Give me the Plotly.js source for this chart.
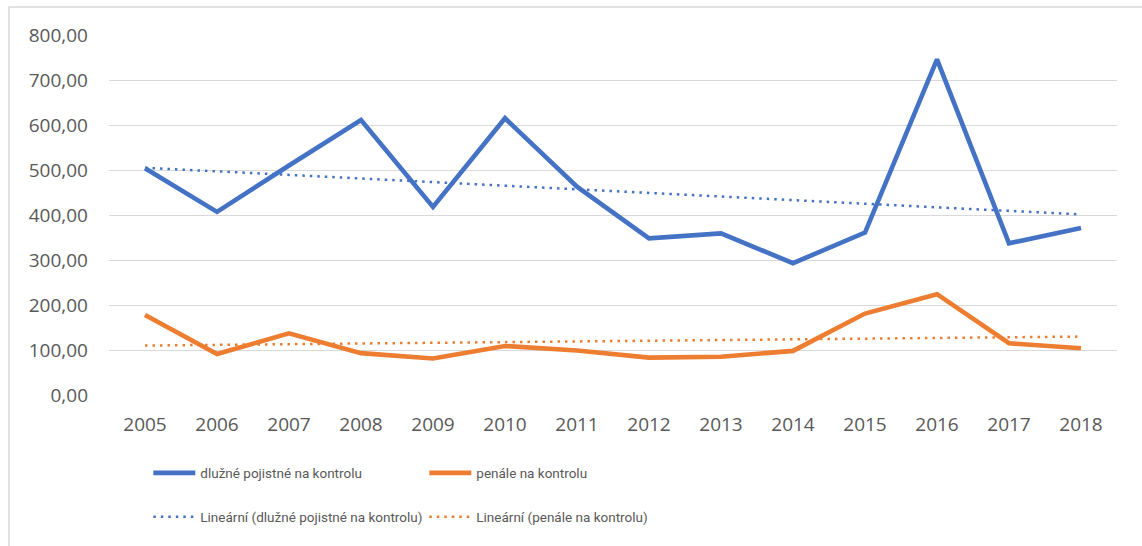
<!DOCTYPE html>
<html>
<head>
<meta charset="utf-8">
<script src="https://cdn.plot.ly/plotly-3.0.1.min.js"></script>
<style>html,body{margin:0;padding:0;background:#fff;}#chart{width:1142px;height:546px;}</style>
</head>
<body>
<div id="chart"></div>
<script>
const years = ['2005','2006','2007','2008','2009','2010','2011','2012','2013','2014','2015','2016','2017','2018'];
const dluzne = [504, 407, 510, 611, 418, 615, 463, 348, 359, 293, 361, 746, 337, 371];
const penale = [178, 91, 137, 93, 81, 109, 99, 83, 85, 98, 181, 224, 115, 104];
const names = ['dlužné pojistné na kontrolu', 'penále na kontrolu',
               'Lineární (dlužné pojistné na kontrolu)', 'Lineární (penále na kontrolu)'];

function linTrend(vals) {
  const n = vals.length;
  let sx = 0, sy = 0, sxx = 0, sxy = 0;
  vals.forEach((v, i) => { sx += i; sy += v; sxx += i * i; sxy += i * v; });
  const b = (n * sxy - sx * sy) / (n * sxx - sx * sx);
  const a = (sy - b * sx) / n;
  return vals.map((_, i) => a + b * i);
}

const BLUE = '#4472C4', ORANGE = '#ED7D31';
const traces = [
  {x: years, y: dluzne, name: names[0], type: 'scatter', mode: 'lines',
   line: {color: BLUE, width: 4.6}, legend: 'legend'},
  {x: years, y: penale, name: names[1], type: 'scatter', mode: 'lines',
   line: {color: ORANGE, width: 4.6}, legend: 'legend'},
  {x: years, y: linTrend(dluzne), name: names[2], type: 'scatter', mode: 'lines',
   line: {color: BLUE, width: 2.5, dash: '2.5px,5px'}, legend: 'legend2'},
  {x: years, y: linTrend(penale), name: names[3], type: 'scatter', mode: 'lines',
   line: {color: ORANGE, width: 2.5, dash: '2.5px,5px'}, legend: 'legend2'}
];

const FONT = 'Open Sans, sans-serif';
const legendBase = {
  orientation: 'h', xanchor: 'left', yanchor: 'middle',
  font: {family: 'Roboto, sans-serif', size: 13.5, color: '#595959'},
  entrywidth: 219, entrywidthmode: 'pixels', itemwidth: 42,
  bgcolor: 'rgba(0,0,0,0)', traceorder: 'normal', itemclick: false
};

const layout = {
  width: 1142, height: 546,
  margin: {l: 109, r: 25, t: 35, b: 151},
  paper_bgcolor: '#ffffff', plot_bgcolor: '#ffffff',
  separators: ', ',
  font: {family: FONT, color: '#595959'},
  showlegend: true,
  xaxis: {
    type: 'category', range: [-0.5, 13.5], showgrid: false, zeroline: false,
    showline: false, ticks: '', ticklabelstandoff: 16,
    tickfont: {family: FONT, size: 19, color: '#595959'}
  },
  yaxis: {
    range: [0, 800], dtick: 100, tickformat: '.2f', showgrid: true,
    gridcolor: '#d9d9d9', gridwidth: 1, zeroline: false, showline: false,
    ticks: '', ticklabelstandoff: 20,
    tickfont: {family: FONT, size: 19, color: '#595959'}
  },
  legend: Object.assign({}, legendBase, {x: 0.039, y: -0.217}),
  legend2: Object.assign({}, legendBase, {x: 0.039, y: -0.339}),
  shapes: [{
    type: 'rect', xref: 'paper', yref: 'paper',
    x0: -0.0992, x1: 1.04, y0: -0.47, y1: 1.0778,
    line: {color: '#d9d9d9', width: 1.5}, fillcolor: 'rgba(0,0,0,0)', layer: 'below'
  }]
};

Plotly.newPlot('chart', traces, layout, {staticPlot: true, displayModeBar: false});
</script>
</body>
</html>
